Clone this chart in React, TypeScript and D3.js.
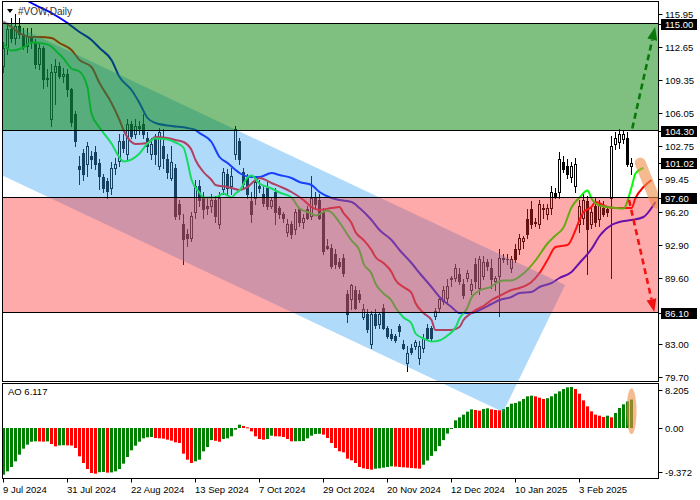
import React from "react";
import * as d3 from "d3";

const tickLabels = ["9 Jul 2024", "31 Jul 2024", "22 Aug 2024", "13 Sep 2024", "7 Oct 2024", "29 Oct 2024", "20 Nov 2024", "12 Dec 2024", "10 Jan 2025", "3 Feb 2025"];
const tickBars = [0, 16, 32, 48, 64, 80, 96, 112, 128, 144];

const openP = [110.8,112.6,114.4,113.6,114.8,114.0,112.8,113.8,113.2,111.0,112.6,109.4,105.4,110.2,110.8,109.8,110.0,108.4,106.0,100.8,
102.1,100.9,101.8,102.2,101.1,99.7,99.3,98.6,100.6,101.3,103.3,102.0,104.9,104.0,104.8,105.0,103.6,102.0,103.6,100.8,
102.8,101.4,99.6,100.6,97.0,94.9,94.0,93.6,96.2,98.8,97.6,96.8,96.8,97.4,95.0,98.4,100.0,98.8,102.0,103.3,
100.2,99.6,97.2,97.6,98.8,98.0,98.6,96.8,98.2,96.6,96.0,94.2,95.0,94.4,96.4,95.2,96.4,95.8,97.6,97.4,
96.2,92.8,92.6,92.0,91.2,91.6,88.0,87.4,88.4,88.0,85.7,86.0,82.9,86.0,85.0,86.6,84.6,84.0,83.8,84.8,
83.0,81.1,82.6,82.8,81.6,82.6,84.6,84.6,85.8,86.6,87.3,87.6,89.4,89.6,90.0,89.0,89.6,88.4,91.0,88.6,
89.8,91.2,90.6,89.2,89.8,91.6,91.5,90.6,92.4,92.4,93.2,95.4,96.4,95.2,95.0,96.6,95.9,96.6,98.1,98.2,
101.2,100.8,99.7,98.8,95.0,95.6,97.2,95.0,96.8,95.4,96.6,96.4,97.6,102.9,103.2,103.5,103.6,100.7];
const highP = [113.2,115.0,115.6,116.0,115.6,114.6,114.6,114.6,113.4,113.0,112.8,110.4,111.0,111.4,111.2,110.6,110.4,108.6,106.2,101.8,
102.4,103.2,102.3,102.8,101.4,100.0,99.6,101.2,101.6,104.0,103.9,105.4,105.3,105.4,105.3,106.0,104.2,103.6,104.0,104.6,
104.4,102.0,102.8,101.0,97.4,96.0,94.4,96.2,99.4,99.4,98.2,97.6,98.0,97.8,98.2,100.6,100.4,100.6,104.8,103.6,
100.6,100.0,98.2,99.8,99.4,98.8,99.2,97.6,98.6,96.8,96.2,95.4,95.3,96.4,96.6,96.0,96.8,99.8,98.2,98.0,
96.6,93.4,93.0,92.4,91.6,92.0,88.4,89.0,88.8,88.4,86.9,86.4,86.3,86.4,86.2,87.0,84.8,84.4,84.0,85.0,
83.4,82.8,82.9,83.4,83.3,84.0,85.0,84.8,86.6,87.8,88.8,89.4,89.8,91.0,90.6,89.4,90.4,89.4,91.6,91.8,
91.8,91.4,91.4,89.8,92.4,92.0,92.0,91.8,93.0,94.0,93.8,96.4,97.2,95.6,97.4,97.0,97.0,98.8,98.6,102.2,
101.8,101.4,101.2,101.6,97.4,98.0,97.8,96.8,97.6,97.4,97.2,96.8,103.8,104.2,104.4,104.3,104.2,101.6];
const lowP = [110.2,112.0,113.2,113.0,113.6,112.4,112.2,112.6,110.6,110.4,108.6,108.8,104.8,107.0,109.6,109.2,107.8,104.8,102.8,98.9,
99.4,99.8,100.6,100.4,98.4,98.2,97.6,98.0,100.0,100.8,102.2,101.4,103.6,103.6,104.0,103.6,102.2,101.4,101.0,100.4,
100.6,99.6,99.4,95.4,95.4,91.0,92.8,93.2,95.6,96.8,95.6,96.0,96.2,95.2,94.6,98.0,98.0,98.0,101.4,101.0,
98.6,97.6,95.2,97.0,98.2,96.8,96.4,96.6,95.0,95.6,95.2,93.8,93.6,94.0,94.8,94.6,95.4,95.4,96.6,95.4,
92.0,92.4,90.6,90.6,90.6,89.8,85.2,86.4,86.4,87.2,85.4,84.2,82.6,84.6,84.6,84.4,83.6,83.4,83.2,83.8,
82.4,80.3,82.0,82.4,81.0,82.2,83.4,83.4,85.4,86.2,87.0,87.2,88.8,89.2,89.0,87.6,89.2,88.0,88.6,88.0,
89.4,90.4,88.6,88.4,85.8,91.2,91.0,90.2,91.2,92.0,92.6,93.6,94.6,94.8,94.6,95.6,95.4,96.0,97.6,97.6,
100.2,99.6,99.2,98.2,94.2,95.0,89.9,94.6,94.8,94.8,95.8,95.8,89.6,102.4,102.6,103.1,100.8,100.0];
const closeP = [112.6,114.4,113.6,114.8,114.0,112.8,113.8,113.2,111.0,112.6,109.4,109.6,110.2,110.8,109.8,110.0,108.4,105.2,103.3,100.4,
100.0,102.8,101.5,101.0,99.8,98.6,98.3,100.6,100.9,103.3,102.6,105.0,103.8,104.8,104.6,104.0,102.8,103.0,102.0,104.2,
101.6,100.2,101.2,95.8,96.0,93.4,93.6,95.8,98.8,97.4,96.4,96.6,97.4,95.8,97.6,100.2,98.6,99.8,104.4,101.4,
99.0,98.0,95.9,99.2,98.6,97.1,96.8,97.4,96.2,96.0,95.6,95.0,94.0,96.2,95.2,95.6,95.6,97.6,97.0,95.6,
92.2,92.6,90.8,91.0,90.8,90.1,86.0,88.9,86.6,87.4,86.5,84.4,86.0,84.9,86.0,84.6,83.8,83.6,83.4,84.3,
82.6,82.1,82.2,83.2,82.8,83.6,83.6,83.6,86.3,87.4,88.4,88.8,89.6,90.6,89.2,87.9,90.1,89.0,89.2,91.4,
91.2,90.8,89.4,89.6,91.6,91.5,91.4,91.5,91.4,93.6,93.6,94.0,95.0,95.1,97.0,96.4,96.6,98.2,97.8,101.4,
100.4,99.9,100.7,101.0,96.8,97.4,94.4,96.2,95.2,97.0,96.0,96.2,102.8,103.6,104.0,104.0,101.0,101.02];

const aoValues = [-10.04,-9.32,-8.39,-7.17,-5.73,-4.44,-3.58,-2.95,-2.87,-2.90,-2.93,-2.88,-3.44,-3.94,-3.75,-3.70,-3.74,-3.78,-4.30,-6.09,
-7.53,-8.82,-9.68,-9.82,-9.50,-9.45,-9.60,-9.55,-9.32,-8.82,-7.67,-6.24,-4.80,-3.80,-2.94,-2.22,-2.01,-1.94,-2.15,-2.22,
-2.29,-2.51,-2.72,-3.08,-3.23,-5.52,-6.81,-7.53,-7.17,-6.81,-5.02,-4.09,-2.60,-2.75,-2.95,-2.37,-2.22,-1.79,-0.36,0.72,
0.43,0.14,-0.72,-1.79,-2.37,-2.51,-2.37,-1.65,-1.79,-1.80,-1.94,-2.37,-2.87,-2.85,-2.83,-2.80,-2.22,-1.65,-1.29,-1.25,
-1.43,-2.15,-3.23,-4.30,-5.02,-5.23,-6.59,-6.95,-7.53,-8.39,-8.67,-8.82,-8.96,-8.75,-8.67,-8.53,-8.39,-8.24,-8.30,-8.39,
-8.46,-8.53,-8.60,-8.67,-8.75,-7.90,-7.00,-6.00,-5.00,-3.90,-2.60,-1.20,-0.15,1.65,2.29,2.87,3.51,4.01,3.87,3.73,
4.09,4.23,4.01,3.87,3.80,4.09,4.52,5.23,5.38,5.73,6.24,6.81,6.95,6.81,6.52,6.24,6.40,6.81,7.38,7.89,
8.39,8.75,8.82,8.39,7.38,5.95,4.66,3.58,2.87,2.65,2.37,2.65,2.30,3.23,4.30,5.10,5.70,6.117];

const lipsBars = [0,2,5,7,10,12,13,15,17,19,21,22,24,27,29,30,32,34,36,38,41,43,45,46,47,49,50,53,55,57,58,59,61,62,64,67,69,72,74,77,78,81,82,84,87,89,90,92,93,95,97,98,100,102,103,105,107,109,111,113,114,116,117,119,122,123,125,127,130,133,136,138,140,142,144,146,147,149,152,155,157,158,160];
const lipsVals = [113.0,112.3,112.6,113.1,113.0,112.7,112.3,111.5,110.5,110.2,108.6,106.0,104.6,103.0,101.6,101.2,101.4,102.0,103.0,103.5,103.4,103.1,102.6,101.2,99.4,98.1,97.6,97.6,98.0,97.6,98.0,98.3,99.6,99.8,99.0,98.5,98.1,97.6,96.5,96.0,95.8,96.3,96.1,95.1,93.3,92.3,91.0,90.0,89.0,88.0,87.3,86.6,85.6,85.0,84.0,83.5,83.2,83.3,83.8,84.6,85.5,86.6,87.6,88.3,88.7,89.0,89.3,89.3,90.0,91.3,93.0,93.8,94.6,96.6,97.6,98.3,97.5,96.8,96.6,96.5,98.6,100.0,100.55];
const teethBars = [0,2,4,7,9,12,14,17,19,22,24,27,29,30,32,33,36,38,41,43,45,47,48,50,52,53,56,57,59,61,63,64,67,70,72,75,77,79,82,84,85,87,88,90,92,93,95,97,98,100,102,103,105,107,108,110,112,114,115,117,118,120,122,124,127,129,132,134,136,138,141,143,144,145,147,148,151,153,157,158,160,162];
const teethVals = [115.15,114.65,114.05,113.65,113.65,113.55,113.05,112.35,111.35,110.65,109.05,107.05,105.35,104.35,103.15,102.95,103.05,103.65,103.55,103.35,103.15,102.35,101.35,100.15,99.35,98.85,98.65,98.55,98.35,98.65,99.35,99.55,99.05,98.55,98.15,97.35,96.65,96.35,96.55,96.65,96.05,95.05,94.15,93.35,92.35,91.65,91.05,90.15,89.35,88.65,88.05,87.05,86.05,85.35,84.35,84.35,84.35,84.65,85.35,86.05,86.35,86.75,87.35,87.75,88.35,88.55,89.15,90.05,91.35,92.65,92.85,94.35,95.35,96.15,96.65,97.15,96.65,96.55,96.55,97.55,98.65,99.35];
const jawBars = [0,7,12,16,19,22,24,27,29,32,34,36,38,42,46,48,49,52,54,56,58,59,62,64,67,69,72,74,77,79,82,84,87,89,92,94,97,99,102,104,107,109,112,114,117,119,122,124,127,129,132,134,137,139,142,144,147,149,152,154,157,160,162,163];
const jawVals = [118.85,117.05,116.05,115.05,114.15,113.35,112.55,111.35,109.65,108.35,107.05,105.55,105.05,104.75,104.55,104.35,104.05,103.15,101.65,101.05,100.35,100.05,99.65,99.65,100.05,99.85,99.55,99.15,98.85,98.15,97.55,97.35,97.15,96.55,95.35,94.35,93.35,92.35,91.05,90.05,88.65,87.65,86.65,86.05,86.05,86.35,86.95,87.35,87.65,88.05,88.15,88.65,89.05,89.55,90.15,91.05,92.45,93.75,94.85,95.15,95.35,95.65,96.55,97.15];

const priceTicks = [115.95, 112.65, 109.35, 106.05, 102.75, 99.45, 96.2, 92.9, 89.6, 83.0, 79.7];
const levelPrices = [115.0, 104.3, 97.6, 86.1];
const currentPrice = 101.02;
const aoTicks = [8.205, 0, -9.372];
const aoTickLabels = ["8.205", "0.00", "-9.372"];

const channelBars = [-2, 140.4, 124.9, -2];
const channelPrices = [115.73, 88.85, 76.15, 100.13];
const upArrow = [[157.2, 104.5], [162.9, 114.65]];
const downArrow = [[156.4, 97.35], [162.7, 86.15]];
const highlightBand = [[159.2, 101.05], [163.2, 97.05]];

const FONT = "'Liberation Sans', Arial, sans-serif";
const PL = 2.5, PR = 658.5, MT = 1.5, MB = 381.5, AT = 383.5, AB = 478.5;

function Arrow({ p0, p1, color }: { p0: number[]; p1: number[]; color: string }) {
  const dx = p1[0] - p0[0], dy = p1[1] - p0[1];
  const len = Math.hypot(dx, dy);
  const ux = dx / len, uy = dy / len;
  const hl = 13, hw = 5;
  const bx = p1[0] - ux * hl, by = p1[1] - uy * hl;
  const pts = [
    [p1[0], p1[1]],
    [bx - uy * hw, by + ux * hw],
    [bx + uy * hw, by - ux * hw],
  ];
  return (
    <g>
      <line x1={p0[0]} y1={p0[1]} x2={bx} y2={by} stroke={color} strokeWidth={2.6} strokeDasharray="6,4" />
      <polygon points={pts.map((p) => p.join(",")).join(" ")} fill={color} />
    </g>
  );
}

export default function App() {
  const x = d3.scaleLinear().domain([0, 157]).range([3.5, 3.5 + 4 * 157]);
  const y = d3.scaleLinear().domain([79.7, 115.95]).range([376.5, 14]);
  const aoY = d3.scaleLinear().domain([0, 8.205]).range([428, 428 - 8.205 * 4.65]);

  const lineGen = d3
    .line<[number, number]>()
    .x((d) => x(d[0]))
    .y((d) => y(d[1]))
    .curve(d3.curveMonotoneX);

  const lips = lipsBars.map((b, i) => [b, lipsVals[i]] as [number, number]);
  const teeth = teethBars.map((b, i) => [b, teethVals[i]] as [number, number]);
  const jaw = jawBars.map((b, i) => [b, jawVals[i]] as [number, number]);

  const channelPts = channelBars.map((b, i) => `${x(b)},${y(channelPrices[i])}`).join(" ");

  const yTop = y(levelPrices[0]);
  const yGreenBot = y(levelPrices[1]);
  const yRedTop = y(levelPrices[2]);
  const yRedBot = y(levelPrices[3]);

  const px = (p: number[]) => [x(p[0]), y(p[1])];

  const labelBox = (val: number, txt: string, key: string) => {
    const yy = Math.round(y(val));
    return (
      <g key={key}>
        <line x1={PR} x2={PR + 4} y1={yy + 0.5} y2={yy + 0.5} stroke="#000" />
        <rect x={661} y={yy - 5} width={36} height={11} fill="#000" />
        <text x={665} y={yy + 4} fontSize={9.5} fontFamily={FONT} fill="#fff">
          {txt}
        </text>
      </g>
    );
  };

  const bandA = px(highlightBand[0]);
  const bandB = px(highlightBand[1]);

  return (
    <svg width={700} height={500} style={{ position: "absolute", left: 0, top: 0, background: "#fff" }}>
      <defs>
        <clipPath id="mainClip">
          <rect x={3} y={2} width={655} height={379} />
        </clipPath>
        <clipPath id="bothClip">
          <rect x={3} y={2} width={655} height={379} />
          <rect x={3} y={384} width={655} height={94} />
        </clipPath>
        <clipPath id="aoClip">
          <rect x={3} y={384} width={655} height={94} />
        </clipPath>
      </defs>
      <rect x={0} y={0} width={700} height={500} fill="#fff" />

      {/* candles */}
      <g clipPath="url(#mainClip)">
        {closeP.map((c, i) => {
          const o = openP[i];
          const cx = x(i);
          const top = Math.round(y(Math.max(o, c))) + 0.5;
          const bot = Math.round(y(Math.min(o, c))) + 0.5;
          const bull = c >= o;
          return (
            <g key={i}>
              <line x1={cx} x2={cx} y1={Math.round(y(highP[i]))} y2={Math.round(y(lowP[i])) + 1} stroke="#000" strokeWidth={1} />
              {bot - top >= 1 ? (
                <rect x={cx - 1} y={top} width={2} height={bot - top} fill={bull ? "#fff" : "#000"} stroke="#000" strokeWidth={1} />
              ) : (
                <line x1={cx - 1.5} x2={cx + 1.5} y1={top} y2={top} stroke="#000" />
              )}
            </g>
          );
        })}
        {/* alligator */}
        <path d={lineGen(jaw) || ""} fill="none" stroke="#0000ff" strokeWidth={2} />
        <path d={lineGen(teeth) || ""} fill="none" stroke="#ff0000" strokeWidth={2} />
        <path d={lineGen(lips) || ""} fill="none" stroke="#00ff00" strokeWidth={2} />
      </g>

      {/* AO bars */}
      <g clipPath="url(#aoClip)">
        {aoValues.map((v, i) => {
          const up = i === 0 || v > aoValues[i - 1];
          const y0 = aoY(0);
          const y1 = aoY(v);
          return (
            <rect
              key={i}
              x={x(i) - 1.5}
              y={Math.min(y0, y1)}
              width={3}
              height={Math.max(1, Math.abs(y1 - y0))}
              fill={up ? "#008000" : "#ff0000"}
            />
          );
        })}
      </g>

      {/* channel overlay */}
      <g clipPath="url(#bothClip)">
        <polygon points={channelPts} fill="rgb(57,162,242)" fillOpacity={0.4} />
      </g>

      {/* zones */}
      <g clipPath="url(#mainClip)">
        <rect x={PL} y={yTop} width={PR - PL} height={yGreenBot - yTop} fill="rgb(0,127,0)" fillOpacity={0.5} />
        <rect x={PL} y={yRedTop} width={PR - PL} height={yRedBot - yRedTop} fill="rgb(255,42,42)" fillOpacity={0.4} />
        {levelPrices.map((p, i) => (
          <line key={i} x1={PL} x2={PR} y1={y(p)} y2={y(p)} stroke="#000" strokeWidth={1} />
        ))}
        <line
          x1={bandA[0]}
          y1={bandA[1]}
          x2={bandB[0]}
          y2={bandB[1]}
          stroke="rgb(240,140,70)"
          strokeOpacity={0.6}
          strokeWidth={11}
          strokeLinecap="round"
        />
        <Arrow p0={px(upArrow[0])} p1={px(upArrow[1])} color="#0a780a" />
        <Arrow p0={px(downArrow[0])} p1={px(downArrow[1])} color="#f01414" />
      </g>

      {/* AO highlight ellipse */}
      <ellipse cx={x(157)} cy={aoY(3.6)} rx={5} ry={23} fill="rgb(240,140,70)" fillOpacity={0.6} />

      {/* frames */}
      <rect x={PL} y={MT} width={PR - PL} height={MB - MT} fill="none" stroke="#000" />
      <rect x={PL} y={AT} width={PR - PL} height={AB - AT} fill="none" stroke="#000" />

      {/* title */}
      <polygon points="7,9 13,9 10,13" fill="#000" />
      <text x={18} y={15} fontSize={10} fontFamily={FONT} fill="#333">
        #VOW,Daily
      </text>
      <text x={8} y={395} fontSize={9.5} fontFamily={FONT} fill="#000">
        AO 6.117
      </text>

      {/* price axis */}
      {priceTicks.map((p, i) => {
        const yy = Math.round(y(p));
        return (
          <g key={i}>
            <line x1={PR} x2={PR + 4} y1={yy + 0.5} y2={yy + 0.5} stroke="#000" />
            <text x={665} y={yy + 4} fontSize={9.5} fontFamily={FONT} fill="#000">
              {p.toFixed(2)}
            </text>
          </g>
        );
      })}
      {levelPrices.map((p, i) => labelBox(p, p.toFixed(2), "lv" + i))}
      {labelBox(currentPrice, currentPrice.toFixed(2), "cur")}

      {/* AO axis */}
      {aoTicks.map((v, i) => {
        const yy = Math.round(aoY(v));
        return (
          <g key={i}>
            <line x1={PR} x2={PR + 4} y1={yy + 0.5} y2={yy + 0.5} stroke="#000" />
            <text x={665} y={yy + 4} fontSize={9.5} fontFamily={FONT} fill="#000">
              {aoTickLabels[i]}
            </text>
          </g>
        );
      })}

      {/* time axis */}
      {tickBars.map((b, i) => (
        <g key={i}>
          <line x1={x(b)} x2={x(b)} y1={AB} y2={AB + 4} stroke="#000" />
          <text x={x(b) - 0.5} y={493} fontSize={9.5} fontFamily={FONT} fill="#000">
            {tickLabels[i]}
          </text>
        </g>
      ))}
    </svg>
  );
}
